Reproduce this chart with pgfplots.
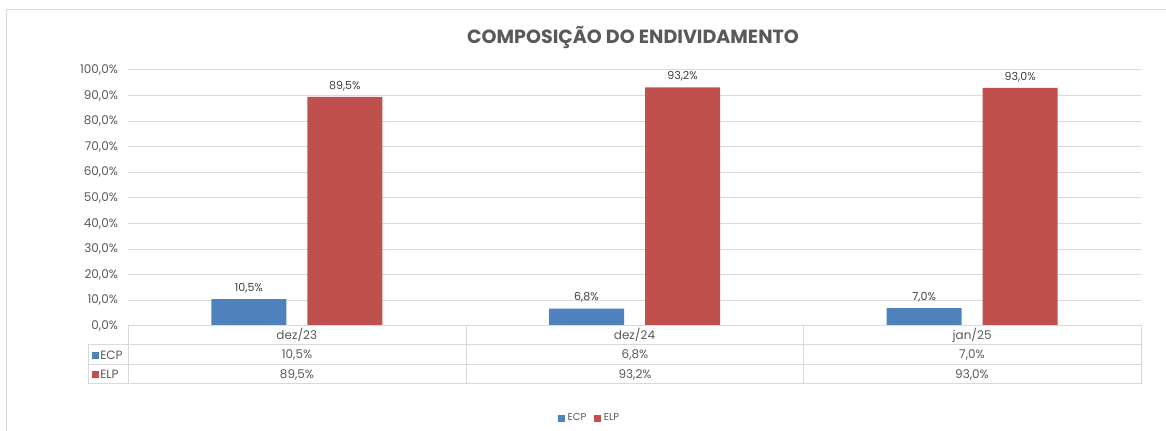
\documentclass[border=0pt]{standalone}
\usepackage{pgfplots}
\pgfplotsset{compat=1.18}
\usepackage{fontspec}
\setmainfont{Poppins}
\definecolor{cblue}{HTML}{4F81BD}
\definecolor{cred}{HTML}{C0504D}
\definecolor{cgrid}{HTML}{D9D9D9}
\definecolor{ctext}{HTML}{595959}
\definecolor{clab}{HTML}{404040}
\begin{document}
\begin{tikzpicture}
\path[use as bounding box] (0,0) rectangle (874.5pt,323.25pt);
\begin{axis}[
  at={(96pt,78.75pt)}, anchor=south west,
  scale only axis, width=759.75pt, height=192pt,
  ybar, bar width=56.25pt,
  xmin=-0.5, xmax=2.5, ymin=0, ymax=100,
  xtick={0,1,2}, xticklabels={dez/23,dez/24,jan/25},
  ytick={0,10,...,100},
  /pgf/number format/assume math mode=true,
  yticklabel={\pgfmathprintnumber[fixed,zerofill,precision=1,use comma]{\tick}\%},
  yticklabel style={font=\fontsize{9}{11}\selectfont, text=ctext, xshift=-4pt},
  xticklabel style={font=\fontsize{9}{11}\selectfont, text=ctext, anchor=base, yshift=-10.5pt},
  ymajorgrids, grid style={cgrid, line width=0.75pt},
  axis line style={draw=none}, major tick length=0pt,
  nodes near coords={\pgfmathprintnumber[fixed,zerofill,precision=1,use comma]{\pgfplotspointmeta}\%},
  nodes near coords style={font=\fontsize{8.3}{10}\selectfont, text=clab, inner sep=4.5pt},
  legend columns=2,
  legend style={at={(0.456,-0.361)}, anchor=center, draw=none, font=\fontsize{7.5}{9}\selectfont, text=ctext,
    /tikz/every even column/.append style={column sep=4pt}},
  legend image code/.code={\fill[#1] (0pt,-2.6pt) rectangle (5.2pt,2.6pt);},
]
\addplot[fill=cblue, draw=none, bar shift=-36pt] coordinates {(0,10.5) (1,6.8) (2,7.0)};
\addplot[fill=cred, draw=none, bar shift=36pt] coordinates {(0,89.5) (1,93.2) (2,93.0)};
\legend{ECP,ELP}
\end{axis}
\begin{scope}[x=0.75pt,y=0.75pt]
  % outer frame
  \draw[cgrid, line width=0.75pt] (6,0) -- (6,421) -- (1166,421);
  % title
  \node[font=\bfseries\fontsize{14.3}{16}\selectfont, text=ctext] at (633,393) {COMPOSIÇÃO DO ENDIVIDAMENTO};
  % data table
  \begin{scope}[cgrid, line width=0.75pt]
    \draw (128,105) rectangle (1141,47);
    \draw (88,86) rectangle (128,47);
    \draw (128,86) -- (1141,86);
    \draw (88,66) -- (1141,66);
    \draw (466,105) -- (466,47);
    \draw (803,105) -- (803,47);
  \end{scope}
  \fill[cblue] (92,72) rectangle (99,79);
  \fill[cred] (92,53) rectangle (99,60);
  \begin{scope}[font=\fontsize{9}{11}\selectfont, text=ctext]
    \node[anchor=west, inner sep=0pt] at (100,76) {ECP};
    \node[anchor=west, inner sep=0pt] at (100,56.5) {ELP};
    \node at (297,76) {10,5\%};
    \node at (635,76) {6,8\%};
    \node at (972,76) {7,0\%};
    \node at (297,56.5) {89,5\%};
    \node at (635,56.5) {93,2\%};
    \node at (972,56.5) {93,0\%};
  \end{scope}
\end{scope}
\end{tikzpicture}
\end{document}
